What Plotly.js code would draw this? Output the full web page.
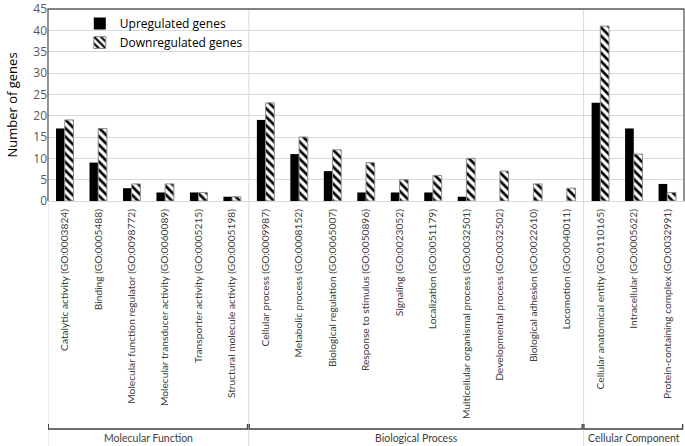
<!DOCTYPE html>
<html>
<head>
<meta charset="utf-8">
<script src="https://cdn.plot.ly/plotly-3.0.1.min.js"></script>
<style>
  html, body { margin: 0; padding: 0; background: #fff; }
  #chart { width: 685px; height: 446px; }
</style>
</head>
<body>
<div id="chart"></div>
<script>
const categories = [
  'Catalytic activity (GO:0003824)',
  'Binding (GO:0005488)',
  'Molecular function regulator (GO:0098772)',
  'Molecular transducer activity (GO:0060089)',
  'Transporter activity (GO:0005215)',
  'Structural molecule activity (GO:0005198)',
  'Cellular process (GO:0009987)',
  'Metabolic process (GO:0008152)',
  'Biological regulation (GO:0065007)',
  'Response to stimulus (GO:0050896)',
  'Signaling (GO:0023052)',
  'Localization (GO:0051179)',
  'Multicellular organismal process (GO:0032501)',
  'Developmental process (GO:0032502)',
  'Biological adhesion (GO:0022610)',
  'Locomotion (GO:0040011)',
  'Cellular anatomical entity (GO:0110165)',
  'Intracellular (GO:0005622)',
  'Protein-containing complex (GO:0032991)'
];
const upregulated = [17, 9, 3, 2, 2, 1, 19, 11, 7, 2, 2, 2, 1, 0, 0, 0, 23, 17, 4];
const downregulated = [19, 17, 4, 4, 2, 1, 23, 15, 12, 9, 5, 6, 10, 7, 4, 3, 41, 11, 2];
const yTicks = [0, 5, 10, 15, 20, 25, 30, 35, 40, 45];

// groups: name, first index, last index
const groupNames = ['Molecular Function', 'Biological Process', 'Cellular Component'];
const groupStart = [0, 6, 16];
const groupEnd = [5, 15, 18];

const plotH = 192;
const py = px => -(px - 201) / plotH;   // pixel row below the axis -> paper y

const traces = [
  {
    type: 'bar', name: 'Upregulated genes',
    x: categories, y: upregulated,
    marker: { color: '#000000', line: { width: 0 } }
  },
  {
    type: 'bar', name: 'Downregulated genes',
    x: categories, y: downregulated,
    marker: {
      color: '#ffffff',
      line: { color: '#8c8c8c', width: 1 },
      pattern: { shape: '\\', fgcolor: '#000000', bgcolor: '#ffffff', size: 6, solidity: 0.45 }
    }
  }
];

const shapes = [];
const annotations = [];
const light = { color: '#d9d9d9', width: 1 };
const bracket = { color: '#404040', width: 1.3 };

// left line and group dividers running into the label area
shapes.push({ type: 'line', xref: 'x', yref: 'paper', x0: -0.5, x1: -0.5, y0: 0, y1: py(446), line: light });
[5.5, 15.5].forEach(v => {
  shapes.push({ type: 'line', xref: 'x', yref: 'paper', x0: v, x1: v, y0: 1, y1: py(446), line: light });
});

groupNames.forEach((name, i) => {
  const a = groupStart[i] - 0.49, b = groupEnd[i] + 0.46;
  shapes.push({
    type: 'path', xref: 'x', yref: 'paper',
    path: `M ${a},${py(424)} L ${a},${py(429)} L ${b},${py(429)} L ${b},${py(424)}`,
    line: bracket
  });
  annotations.push({
    xref: 'x', yref: 'paper', x: (groupStart[i] + groupEnd[i]) / 2, y: py(438),
    text: name, showarrow: false, yanchor: 'middle',
    font: { family: 'Lato, sans-serif', size: 10.5, color: '#404040' }
  });
});

// dark frame on top, left and right of the plot area
shapes.push({
  type: 'path', xref: 'paper', yref: 'paper',
  path: 'M 0,0 L 0,1 L 1,1 L 1,0',
  line: { color: '#595959', width: 1.3 }
});

const layout = {
  width: 685, height: 446,
  margin: { l: 48, r: 1, t: 9, b: 245 },
  paper_bgcolor: '#ffffff', plot_bgcolor: '#ffffff',
  font: { family: '"Open Sans", sans-serif', color: '#404040' },
  barmode: 'group', bargap: 0.48, bargroupgap: 0,
  showlegend: true,
  legend: {
    x: 0.05, y: 1.0, xanchor: 'left', yanchor: 'top',
    font: { size: 12, color: '#000000' }, bgcolor: 'rgba(0,0,0,0)',
    itemwidth: 30, tracegroupgap: 4
  },
  xaxis: {
    type: 'category', tickangle: -90,
    range: [-0.5, 18.5],
    tickfont: { family: 'Lato, sans-serif', size: 10.2, color: '#404040' },
    ticklabelstandoff: 3,
    showline: true, linecolor: '#d9d9d9', linewidth: 1,
    ticks: '', showgrid: false
  },
  yaxis: {
    range: [0, 45], tickmode: 'array', tickvals: yTicks,
    ticklabeloverflow: 'allow',
    tickfont: { size: 12, color: '#595959' },
    gridcolor: '#d9d9d9', gridwidth: 1,
    zeroline: false, showline: false, ticks: '',
    title: { text: 'Number of genes', font: { size: 13, color: '#000000' }, standoff: 12 }
  },
  shapes: shapes,
  annotations: annotations
};

Plotly.newPlot('chart', traces, layout, { displayModeBar: false, staticPlot: true });
</script>
</body>
</html>
